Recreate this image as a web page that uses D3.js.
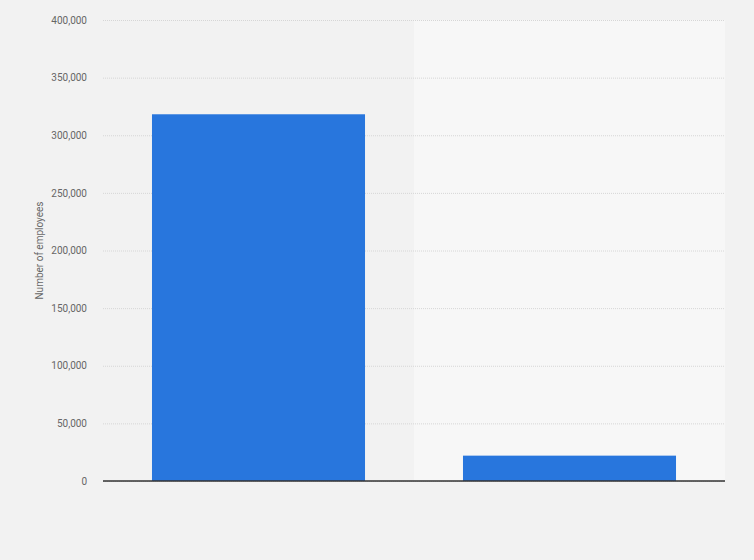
<!DOCTYPE html>
<html>
<head>
	<meta charset="utf-8">
	<title>Number of employees</title>
	<script src="https://d3js.org/d3.v7.min.js"></script>
	<style>
		body { margin: 0; background: #f2f2f2; }
		.chart text { font-family: Roboto, 'Liberation Sans', Arial, sans-serif; }
	</style>
</head>
<body>
	<div class="chart"></div>

	<script type="text/javascript">
		// data (no category labels are shown)
		const categories = ['A', 'B']
		const employees = [318200, 22000]
		const yTicks = [0, 50000, 100000, 150000, 200000, 250000, 300000, 350000, 400000]

		const width = 754
		const height = 560
		const margin = { top: 20, right: 29, bottom: 79, left: 103 }
		const innerW = width - margin.left - margin.right
		const innerH = height - margin.top - margin.bottom

		const svg = d3.select('.chart').append('svg')
			.attr('width', width)
			.attr('height', height)

		svg.append('rect')
			.attr('width', width)
			.attr('height', height)
			.attr('fill', '#f2f2f2')

		const chart = svg.append('g')
			.attr('transform', `translate(${margin.left}, ${margin.top})`)

		const xScale = d3.scaleBand()
			.domain(categories)
			.range([0, innerW])
			.padding(0)

		const yScale = d3.scaleLinear()
			.domain([0, 400000])
			.range([innerH, 0])

		// alternating band backgrounds
		chart.selectAll('.band')
			.data(categories)
			.join('rect')
			.attr('class', 'band')
			.attr('x', d => xScale(d))
			.attr('y', 0)
			.attr('width', xScale.bandwidth())
			.attr('height', innerH)
			.attr('fill', (d, i) => i % 2 ? '#f7f7f7' : '#f2f2f2')

		// grid lines + tick labels
		const yAxis = d3.axisLeft(yScale)
			.tickValues(yTicks)
			.tickSize(-innerW)
			.tickPadding(16)
			.tickFormat(d3.format(','))

		const gy = chart.append('g').call(yAxis)
		gy.select('.domain').remove()
		gy.selectAll('.tick line')
			.attr('stroke', '#d6d6d6')
			.attr('stroke-dasharray', '1,1')
		gy.selectAll('.tick text')
			.attr('fill', '#666')
			.attr('font-size', 10)

		// bars
		const barW = xScale.bandwidth() * 0.685
		chart.selectAll('.bar')
			.data(employees)
			.join('rect')
			.attr('class', 'bar')
			.attr('x', (d, i) => xScale(categories[i]) + (xScale.bandwidth() - barW) / 2)
			.attr('y', d => yScale(d))
			.attr('width', barW)
			.attr('height', d => innerH - yScale(d))
			.attr('fill', '#2876dd')

		// baseline
		chart.append('line')
			.attr('x1', 0)
			.attr('x2', innerW)
			.attr('y1', yScale(0))
			.attr('y2', yScale(0))
			.attr('stroke', '#333')
			.attr('stroke-width', 1.3)

		// y title
		svg.append('text')
			.attr('transform', `translate(43, ${margin.top + innerH / 2}) rotate(-90)`)
			.attr('text-anchor', 'middle')
			.attr('font-size', 10)
			.attr('fill', '#666')
			.text('Number of employees')
	</script>
</body>
</html>
